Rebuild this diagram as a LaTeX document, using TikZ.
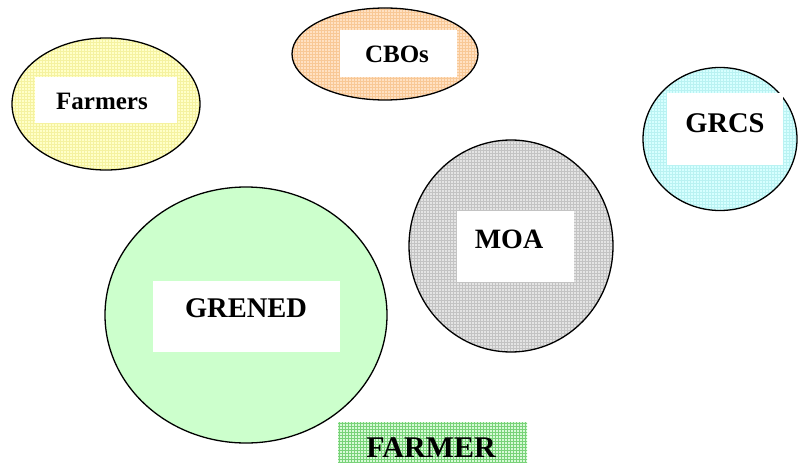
\documentclass[tikz,border=0pt]{standalone}
\usepackage{fontspec}
\setmainfont{Liberation Serif}
\usetikzlibrary{shapes.geometric,patterns}
\definecolor{farmfill}{RGB}{255,255,200}
\definecolor{farmgrid}{RGB}{245,242,160}
\definecolor{cbofill}{RGB}{255,225,195}
\definecolor{cbogrid}{RGB}{248,200,150}
\definecolor{grcsfill}{RGB}{215,255,255}
\definecolor{grcsgrid}{RGB}{185,242,242}
\definecolor{moafill}{RGB}{228,228,228}
\definecolor{moagrid}{RGB}{195,195,195}
\definecolor{grenedfill}{RGB}{204,255,204}
\definecolor{farmerfill}{RGB}{215,250,215}
\definecolor{farmergrid}{RGB}{120,210,120}
\tikzset{
  blob/.style={ellipse, draw=black, line width=1.3pt, inner sep=0pt},
  gridfill/.style 2 args={preaction={fill=#1}, pattern=grid, pattern color=#2},
  whitebox/.style={rectangle, fill=white, inner sep=0pt},
  lbl/.style={anchor=base, inner sep=0pt, font=\bfseries\fontsize{#1}{#1}\selectfont},
}
\begin{document}
\begin{tikzpicture}[x=1pt,y=-1pt]
\useasboundingbox[fill=white] (0,0) rectangle (799,468);
% ellipses
\node[blob, gridfill={farmfill}{farmgrid}, minimum width=188, minimum height=132] (farmersE) at (106,104) {};
\node[blob, gridfill={cbofill}{cbogrid}, minimum width=186, minimum height=92] (cbosE) at (385,54) {};
\node[blob, gridfill={grcsfill}{grcsgrid}, minimum width=154, minimum height=143] (grcsE) at (720,139) {};
\node[blob, gridfill={moafill}{moagrid}, minimum width=204, minimum height=212] (moaE) at (511,246) {};
\node[blob, fill=grenedfill, minimum width=282, minimum height=256] (grenedE) at (246,315) {};
% white boxes
\node[whitebox, minimum width=142, minimum height=46] (farmersB) at (106,100) {};
\node[whitebox, minimum width=117, minimum height=47] (cbosB) at (398.5,53.5) {};
\node[whitebox, minimum width=116, minimum height=72] (grcsB) at (725,129) {};
\node[whitebox, minimum width=117, minimum height=71] (moaB) at (515.5,246.5) {};
\node[whitebox, minimum width=187, minimum height=71] (grenedB) at (246.5,316.5) {};
% FARMER box
\node[rectangle, inner sep=0pt, gridfill={farmerfill}{farmergrid}, minimum width=189, minimum height=40] (farmerB) at (432.5,442) {};
% labels
\node[lbl=25] (farmersT) at (102,110) {Farmers};
\node[lbl=25] (cbosT) at (397,63) {CBOs};
\node[lbl=28.5] (grcsT) at (725,132) {GRCS};
\node[lbl=28] (moaT) at (509,248) {MOA};
\node[lbl=28.5] (grenedT) at (246,317) {GRENED};
\node[lbl=30] (farmerT) at (431,457) {FARMER};
\end{tikzpicture}
\end{document}
